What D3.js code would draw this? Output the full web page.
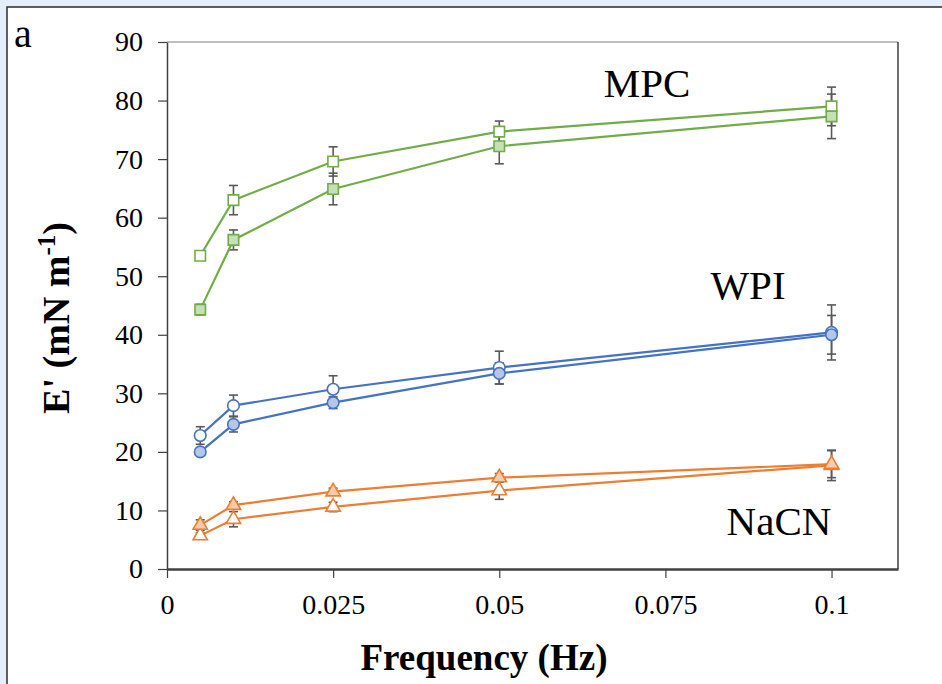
<!DOCTYPE html>
<html><head><meta charset="utf-8">
<script src="https://cdn.jsdelivr.net/npm/d3@7"></script>
<style>
html,body{margin:0;padding:0;background:#e4eefa;}
svg{display:block;}
</style></head>
<body>
<svg id="chart" width="942" height="684"></svg>
<script>
// ---- data ----
const freqs = [0.005, 0.01, 0.025, 0.05, 0.1];
const mpcOpen = [53.5, 63.0, 69.6, 74.7, 79.0];
const mpcOpenErr = [0.6, 2.5, 2.5, 1.8, 3.3];
const mpcFilled = [44.3, 56.2, 64.9, 72.2, 77.3];
const mpcFilledErr = [0.9, 1.7, 2.7, 3.0, 3.8];
const wpiOpen = [22.8, 27.9, 30.7, 34.4, 40.4];
const wpiOpenErr = [1.5, 1.8, 2.3, 2.8, 4.7];
const wpiFilled = [20.0, 24.7, 28.4, 33.4, 40.0];
const wpiFilledErr = [0.5, 1.3, 1.0, 1.8, 3.3];
const nacnFilled = [7.5, 10.9, 13.2, 15.6, 17.9];
const nacnFilledErr = [0.9, 0.6, 0.6, 0.7, 2.3];
const nacnOpen = [5.7, 8.5, 10.6, 13.4, 17.7];
const nacnOpenErr = [0.5, 1.3, 0.8, 1.5, 2.6];
const yTicks = [0, 10, 20, 30, 40, 50, 60, 70, 80, 90];
const xTicks = [0, 0.025, 0.05, 0.075, 0.1];
const xTickLabels = ["0", "0.025", "0.05", "0.075", "0.1"];
const groupLabels = ["MPC", "WPI", "NaCN"];

const series = [
  {vals: mpcOpen, err: mpcOpenErr, shape: "square", stroke: "#70ad47", fill: "#ffffff"},
  {vals: mpcFilled, err: mpcFilledErr, shape: "square", stroke: "#70ad47", fill: "#c5e0b4"},
  {vals: wpiOpen, err: wpiOpenErr, shape: "circle", stroke: "#4472c4", fill: "#ffffff"},
  {vals: wpiFilled, err: wpiFilledErr, shape: "circle", stroke: "#4472c4", fill: "#b4c7e7"},
  {vals: nacnOpen, err: nacnOpenErr, shape: "triangle", stroke: "#ed7d31", fill: "#ffffff"},
  {vals: nacnFilled, err: nacnFilledErr, shape: "triangle", stroke: "#ed7d31", fill: "#f8cbad"}
];

const svg = d3.select("#chart");
const font = "'Liberation Serif','Times New Roman',serif";

// outer white panel
svg.append("rect").attr("x", 7).attr("y", 7).attr("width", 950).attr("height", 700)
  .attr("fill", "#fff").attr("stroke", "#2b2b2b").attr("stroke-width", 1.5);

const L = 167, T = 42, R = 898, B = 569;
const x = d3.scaleLinear().domain([0, 0.11]).range([L, R]);
const y = d3.scaleLinear().domain([0, 90]).range([B, T]);

// frame
svg.append("line").attr("x1", L).attr("x2", R).attr("y1", T).attr("y2", T).attr("stroke", "#7f7f7f").attr("stroke-width", 1.2);
svg.append("line").attr("x1", R).attr("x2", R).attr("y1", T).attr("y2", B).attr("stroke", "#404040").attr("stroke-width", 1.5);

// axes
const yAxis = svg.append("g").attr("transform", `translate(${L},0)`)
  .call(d3.axisLeft(y).tickValues(yTicks).tickSize(9).tickSizeOuter(0).tickPadding(15));
yAxis.select(".domain").attr("stroke", "#404040").attr("stroke-width", 1.5);
yAxis.selectAll(".tick line").attr("stroke", "#404040").attr("stroke-width", 1.2);
yAxis.selectAll("text").attr("font-family", font).attr("font-size", 28).attr("fill", "#000");

const xAxis = svg.append("g").attr("transform", `translate(0,${B})`)
  .call(d3.axisBottom(x).tickValues(xTicks).tickFormat((d, i) => xTickLabels[i]).tickSize(9).tickSizeOuter(0).tickPadding(16));
xAxis.select(".domain").attr("stroke", "#404040").attr("stroke-width", 2.5);
xAxis.selectAll(".tick line").attr("stroke", "#404040").attr("stroke-width", 1.2);
xAxis.selectAll("text").attr("font-family", font).attr("font-size", 28).attr("fill", "#000");

// axis titles
svg.append("text").attr("x", 484).attr("y", 670).attr("text-anchor", "middle")
  .attr("font-family", font).attr("font-weight", "bold").attr("font-size", 37).text("Frequency (Hz)");
const yt = svg.append("text").attr("transform", "translate(69,318) rotate(-90)").attr("text-anchor", "middle")
  .attr("font-family", font).attr("font-weight", "bold").attr("font-size", 38);
yt.append("tspan").text("E' (mN m");
yt.append("tspan").attr("dy", -14).attr("font-size", 25).text("-1");
yt.append("tspan").attr("dy", 14).text(")");

// panel letter
svg.append("text").attr("x", 14).attr("y", 47).attr("font-family", font).attr("font-size", 40).text("a");

// series
const line = d3.line().x((d, i) => x(freqs[i])).y(d => y(d));
const sym = {
  square: d3.symbol().type(d3.symbolSquare).size(110),
  circle: d3.symbol().type(d3.symbolCircle).size(105),
  triangle: d3.symbol().type(d3.symbolTriangle).size(90)
};

series.forEach(s => {
  const g = svg.append("g");
  s.vals.forEach((v, i) => {
    const cx = x(freqs[i]);
    const e = g.append("g").attr("stroke", "#595959").attr("stroke-width", 1.6);
    e.append("line").attr("x1", cx).attr("x2", cx).attr("y1", y(v + s.err[i])).attr("y2", y(v - s.err[i]));
    e.append("line").attr("x1", cx - 4.5).attr("x2", cx + 4.5).attr("y1", y(v + s.err[i])).attr("y2", y(v + s.err[i]));
    e.append("line").attr("x1", cx - 4.5).attr("x2", cx + 4.5).attr("y1", y(v - s.err[i])).attr("y2", y(v - s.err[i]));
  });
});
series.forEach(s => {
  svg.append("path").datum(s.vals).attr("d", line).attr("fill", "none")
    .attr("stroke", s.stroke).attr("stroke-width", 2.2);
});
series.forEach(s => {
  svg.append("g").selectAll("path").data(s.vals).join("path")
    .attr("d", sym[s.shape])
    .attr("transform", (d, i) => `translate(${x(freqs[i])},${y(d)})`)
    .attr("fill", s.fill).attr("stroke", s.stroke).attr("stroke-width", 1.6);
});

// group labels
const labelPos = [[647, 97], [748, 299], [779, 535]];
groupLabels.forEach((t, i) => {
  svg.append("text").attr("x", labelPos[i][0]).attr("y", labelPos[i][1]).attr("text-anchor", "middle")
    .attr("font-family", font).attr("font-size", 41).text(t);
});
</script>
</body></html>
